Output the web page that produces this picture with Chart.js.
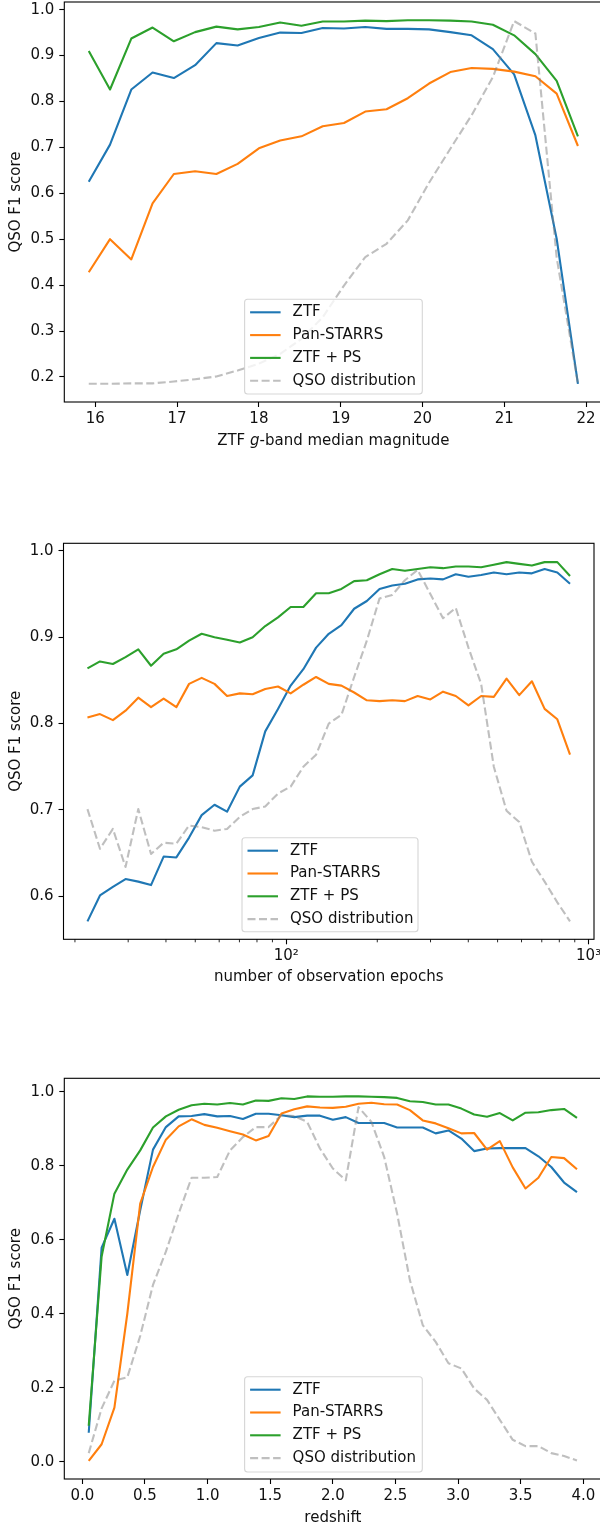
<!DOCTYPE html>
<html>
<head>
<meta charset="utf-8">
<script src="https://cdn.jsdelivr.net/npm/chart.js@4.4.1/dist/chart.umd.min.js"></script>
<style>
  html, body { margin: 0; padding: 0; background: #fff; }
  body { width: 600px; height: 1527px; overflow: hidden; position: relative; }
  .panel { position: absolute; left: 0; width: 600px; overflow: hidden; }
  canvas { display: block; }
</style>
</head>
<body>
<div class="panel" style="top:0;height:465px"><canvas id="magChart" width="610" height="465"></canvas></div>
<div class="panel" style="top:465px;height:535px"><canvas id="epochChart" width="610" height="535"></canvas></div>
<div class="panel" style="top:1000px;height:527px"><canvas id="zChart" width="610" height="527"></canvas></div>
<script>
// --- panel 1: F1 vs ZTF g-band median magnitude ---
const magBins = [15.92, 16.18, 16.44, 16.70, 16.96, 17.22, 17.48, 17.74, 18.00, 18.26, 18.52, 18.78,
                 19.04, 19.30, 19.56, 19.82, 20.08, 20.34, 20.60, 20.86, 21.12, 21.38, 21.64, 21.90];
const magZTF  = [0.625, 0.706, 0.826, 0.863, 0.851, 0.879, 0.927, 0.922, 0.938, 0.950, 0.949, 0.960,
                 0.959, 0.962, 0.958, 0.958, 0.957, 0.951, 0.944, 0.914, 0.859, 0.726, 0.501, 0.185];
const magPS   = [0.428, 0.500, 0.456, 0.578, 0.642, 0.648, 0.642, 0.664, 0.698, 0.715, 0.724, 0.746,
                 0.753, 0.778, 0.783, 0.807, 0.839, 0.864, 0.873, 0.871, 0.865, 0.855, 0.817, 0.703];
const magBoth = [0.910, 0.826, 0.937, 0.961, 0.931, 0.951, 0.963, 0.957, 0.962, 0.972, 0.965, 0.974,
                 0.974, 0.976, 0.975, 0.977, 0.977, 0.976, 0.974, 0.967, 0.944, 0.903, 0.845, 0.724];
const magQSO  = [0.185, 0.185, 0.186, 0.186, 0.190, 0.195, 0.201, 0.214, 0.229, 0.250, 0.283, 0.330,
                 0.399, 0.461, 0.490, 0.541, 0.623, 0.697, 0.770, 0.853, 0.975, 0.948, 0.460, 0.185];
const magTicks = [16, 17, 18, 19, 20, 21, 22];
const magYTicks = [0.2, 0.3, 0.4, 0.5, 0.6, 0.7, 0.8, 0.9, 1.0];

// --- panel 2: F1 vs number of observation epochs (log x) ---
const epochBins = [22.0, 24.2, 26.7, 29.4, 32.4, 35.7, 39.3, 43.3, 47.7, 52.5, 57.9, 63.7, 70.2,
                   77.4, 85.2, 93.9, 103.4, 113.9, 125.5, 138.2, 152.2, 167.7, 184.7, 203.5, 224.1,
                   246.9, 272.0, 299.6, 330.0, 363.6, 400.5, 441.1, 485.9, 535.3, 589.6, 649.4,
                   715.4, 788.0, 868.0];
const epochZTF  = [0.571, 0.601, 0.611, 0.620, 0.617, 0.613, 0.646, 0.645, 0.668, 0.694, 0.706, 0.698,
                   0.727, 0.740, 0.791, 0.817, 0.844, 0.863, 0.888, 0.904, 0.914, 0.933, 0.942, 0.956,
                   0.960, 0.962, 0.967, 0.968, 0.967, 0.973, 0.970, 0.972, 0.975, 0.973, 0.975, 0.974,
                   0.979, 0.975, 0.962];
const epochPS   = [0.807, 0.811, 0.804, 0.815, 0.830, 0.819, 0.829, 0.819, 0.846, 0.853, 0.846, 0.832,
                   0.835, 0.834, 0.840, 0.843, 0.835, 0.845, 0.854, 0.846, 0.844, 0.836, 0.827, 0.826,
                   0.827, 0.826, 0.832, 0.828, 0.837, 0.832, 0.821, 0.832, 0.831, 0.852, 0.833, 0.849,
                   0.817, 0.805, 0.764];
const epochBoth = [0.864, 0.872, 0.869, 0.877, 0.886, 0.867, 0.881, 0.886, 0.896, 0.904, 0.900, 0.897,
                   0.894, 0.900, 0.913, 0.923, 0.935, 0.935, 0.951, 0.951, 0.956, 0.965, 0.966, 0.973,
                   0.979, 0.977, 0.979, 0.981, 0.980, 0.982, 0.982, 0.981, 0.984, 0.987, 0.985, 0.983,
                   0.987, 0.987, 0.971];
const epochQSO  = [0.701, 0.655, 0.678, 0.634, 0.701, 0.649, 0.662, 0.661, 0.682, 0.680, 0.676, 0.678,
                   0.692, 0.701, 0.704, 0.719, 0.727, 0.750, 0.764, 0.800, 0.810, 0.854, 0.896, 0.945,
                   0.949, 0.966, 0.978, 0.950, 0.922, 0.934, 0.888, 0.846, 0.750, 0.699, 0.686, 0.640,
                   0.617, 0.593, 0.571];
const epochTicks = [100, 1000];
const epochTickLabels = ['10²', '10³'];
const epochMinorTicks = [20, 30, 40, 50, 60, 70, 80, 90, 200, 300, 400, 500, 600, 700, 800, 900];
const epochYTicks = [0.6, 0.7, 0.8, 0.9, 1.0];

// --- panel 3: F1 vs redshift ---
const zBins = [0.051, 0.154, 0.256, 0.359, 0.462, 0.564, 0.667, 0.769, 0.872, 0.974, 1.077, 1.179, 1.282,
               1.385, 1.487, 1.590, 1.692, 1.795, 1.897, 2.000, 2.103, 2.205, 2.308, 2.410, 2.513, 2.615,
               2.718, 2.821, 2.923, 3.026, 3.128, 3.231, 3.333, 3.436, 3.538, 3.641, 3.744, 3.846, 3.949];
const zZTF  = [0.078, 0.579, 0.657, 0.505, 0.680, 0.844, 0.905, 0.934, 0.935, 0.940, 0.934, 0.935, 0.927,
               0.941, 0.941, 0.937, 0.932, 0.936, 0.936, 0.925, 0.932, 0.916, 0.916, 0.916, 0.904, 0.904,
               0.904, 0.888, 0.896, 0.874, 0.840, 0.847, 0.848, 0.848, 0.848, 0.826, 0.797, 0.755, 0.729];
const zPS   = [0.002, 0.047, 0.146, 0.400, 0.698, 0.797, 0.871, 0.907, 0.926, 0.911, 0.903, 0.894, 0.885,
               0.869, 0.881, 0.942, 0.953, 0.961, 0.958, 0.957, 0.960, 0.968, 0.971, 0.967, 0.966, 0.951,
               0.923, 0.915, 0.902, 0.888, 0.889, 0.844, 0.867, 0.796, 0.739, 0.768, 0.824, 0.821, 0.791];
const zBoth = [0.097, 0.555, 0.725, 0.790, 0.842, 0.904, 0.934, 0.952, 0.964, 0.968, 0.966, 0.970, 0.966,
               0.977, 0.976, 0.983, 0.981, 0.988, 0.987, 0.987, 0.988, 0.988, 0.987, 0.986, 0.984, 0.975,
               0.973, 0.966, 0.966, 0.955, 0.939, 0.933, 0.943, 0.923, 0.944, 0.945, 0.951, 0.954, 0.930];
const zQSO  = [0.023, 0.144, 0.219, 0.228, 0.340, 0.478, 0.568, 0.671, 0.768, 0.768, 0.770, 0.842, 0.878,
               0.905, 0.905, 0.937, 0.935, 0.919, 0.847, 0.793, 0.761, 0.959, 0.919, 0.824, 0.671, 0.491,
               0.369, 0.324, 0.266, 0.252, 0.198, 0.167, 0.113, 0.059, 0.042, 0.042, 0.023, 0.015, 0.003];
const zTicks = [0.0, 0.5, 1.0, 1.5, 2.0, 2.5, 3.0, 3.5, 4.0];
const zYTicks = [0.0, 0.2, 0.4, 0.6, 0.8, 1.0];

const FONT = 'DejaVu Sans';
const FS = 15;
const TXT = '#111';

function series(label, xs, ys, color, dashed, order) {
  return {
    label: label,
    order: order,
    data: xs.map((x, i) => ({ x: x, y: ys[i] })),
    borderColor: color,
    borderWidth: 2.1,
    borderDash: dashed ? [8, 3.5] : [],
    borderJoinStyle: 'round',
    pointRadius: 0,
    tension: 0,
    fill: false
  };
}

function datasets(xs, ztf, ps, both, qso) {
  return [
    series('ZTF', xs, ztf, '#1f77b4', false, 4),
    series('Pan-STARRS', xs, ps, '#ff7f0e', false, 3),
    series('ZTF + PS', xs, both, '#2ca02c', false, 2),
    series('QSO distribution', xs, qso, 'rgba(128,128,128,0.5)', true, 1)
  ];
}

const tickGrid = { drawOnChartArea: false, drawTicks: true, tickLength: 5, tickColor: '#000', tickWidth: 1.1 };

function yAxis(min, max, ticks, width) {
  return {
    type: 'linear', position: 'left', min: min, max: max,
    afterBuildTicks: s => { s.ticks = ticks.map(v => ({ value: v })); },
    afterFit: s => { s.width = width; s.paddingTop = 0; s.paddingBottom = 0; },
    grid: tickGrid,
    border: { display: false },
    ticks: { color: TXT, font: { family: FONT, size: FS }, padding: 5, callback: v => v.toFixed(1) },
    title: { display: true, text: 'QSO F1 score', color: TXT, font: { family: FONT, size: FS }, padding: { top: 7, bottom: 0 } }
  };
}

function xAxis(type, min, max, ticks, labels, height, title, titlePad) {
  return {
    type: type, position: 'bottom', min: min, max: max,
    afterBuildTicks: s => { s.ticks = ticks.map(v => ({ value: v })); },
    afterFit: s => { s.height = height; s.paddingLeft = 0; s.paddingRight = 0; },
    grid: tickGrid,
    border: { display: false },
    ticks: {
      color: TXT, font: { family: FONT, size: FS }, padding: 3,
      autoSkip: false, maxRotation: 0, minRotation: 0,
      callback: (v, i) => labels[i]
    },
    title: { display: !!title, text: title || '', color: TXT, font: { family: FONT, size: FS }, padding: { top: 0, bottom: titlePad } }
  };
}

// spines, minor ticks, legend box and the mixed-style x label
const decor = {
  id: 'decor',
  afterDatasetsDraw(chart, args, opts) {
    const ctx = chart.ctx;
    const a = chart.chartArea;
    ctx.save();
    ctx.strokeStyle = '#000';
    ctx.lineWidth = 1.1;
    ctx.strokeRect(a.left, a.top, a.right - a.left, a.bottom - a.top);

    if (opts.minor) {
      const sx = chart.scales.x;
      ctx.lineWidth = 0.85;
      opts.minor.forEach(v => {
        const px = sx.getPixelForValue(v);
        ctx.beginPath();
        ctx.moveTo(px, a.bottom);
        ctx.lineTo(px, a.bottom + 3);
        ctx.stroke();
      });
    }

    const L = opts.legend;
    ctx.beginPath();
    ctx.roundRect(L.left, L.top, L.width, L.height, 3);
    ctx.fillStyle = 'rgba(255,255,255,0.8)';
    ctx.fill();
    ctx.strokeStyle = 'rgba(204,204,204,0.8)';
    ctx.lineWidth = 1.1;
    ctx.stroke();
    ctx.font = FS + 'px "' + FONT + '"';
    ctx.textBaseline = 'middle';
    chart.data.datasets.forEach((ds, i) => {
      const y = L.top + 13 + i * 22.8;
      ctx.beginPath();
      ctx.setLineDash(ds.borderDash);
      ctx.strokeStyle = ds.borderColor;
      ctx.lineWidth = ds.borderWidth;
      ctx.moveTo(L.left + 5.5, y);
      ctx.lineTo(L.left + 36, y);
      ctx.stroke();
      ctx.setLineDash([]);
      ctx.fillStyle = TXT;
      ctx.fillText(ds.label, L.left + 48, y);
    });

    if (opts.xlabel) {
      const parts = opts.xlabel;
      let total = 0;
      parts.forEach(p => { ctx.font = p.style + FS + 'px "' + FONT + '"'; total += ctx.measureText(p.text).width; });
      let x = (a.left + a.right) / 2 - total / 2;
      ctx.fillStyle = TXT;
      ctx.textAlign = 'left';
      parts.forEach(p => {
        ctx.font = p.style + FS + 'px "' + FONT + '"';
        ctx.fillText(p.text, x, opts.xlabelY);
        x += ctx.measureText(p.text).width;
      });
    }
    ctx.restore();
  }
};

function makeChart(id, data, scales, padding, decorOpts) {
  return new Chart(document.getElementById(id), {
    type: 'line',
    data: { datasets: data },
    options: {
      responsive: false,
      devicePixelRatio: 1,
      animation: false,
      events: [],
      layout: { padding: padding },
      scales: scales,
      plugins: { legend: { display: false }, tooltip: { enabled: false }, decor: decorOpts }
    },
    plugins: [decor]
  });
}

makeChart('magChart',
  datasets(magBins, magZTF, magPS, magBoth, magQSO),
  {
    x: xAxis('linear', 15.621, 22.199, magTicks, magTicks.map(String), 63, null, 0),
    y: yAxis(0.1454, 1.0166, magYTicks, 64.3)
  },
  { top: 2, right: 7.6, left: 0, bottom: 0 },
  {
    legend: { left: 244.6, top: 299.3, width: 177.7, height: 94.7 },
    xlabel: [{ text: 'ZTF ', style: '' }, { text: 'g', style: 'italic ' }, { text: '-band median magnitude', style: '' }],
    xlabelY: 441
  });

makeChart('epochChart',
  datasets(epochBins, epochZTF, epochPS, epochBoth, epochQSO),
  {
    x: xAxis('logarithmic', 18.33, 1042, epochTicks, epochTickLabels, 60.7, 'number of observation epochs', 13.5),
    y: yAxis(0.5502, 1.0088, epochYTicks, 63.5)
  },
  { top: 78.3, right: 16, left: 0, bottom: 0 },
  {
    legend: { left: 242, top: 372.7, width: 176, height: 94 },
    minor: epochMinorTicks
  });

makeChart('zChart',
  datasets(zBins, zZTF, zPS, zBoth, zQSO),
  {
    x: xAxis('linear', -0.144, 4.144, zTicks, zTicks.map(v => v.toFixed(1)), 48, 'redshift', 0),
    y: yAxis(-0.047, 1.037, zYTicks, 64.3)
  },
  { top: 78.3, right: 8.6, left: 0, bottom: 0 },
  {
    legend: { left: 244.6, top: 376.7, width: 177.7, height: 95.3 }
  });
</script>
</body>
</html>
